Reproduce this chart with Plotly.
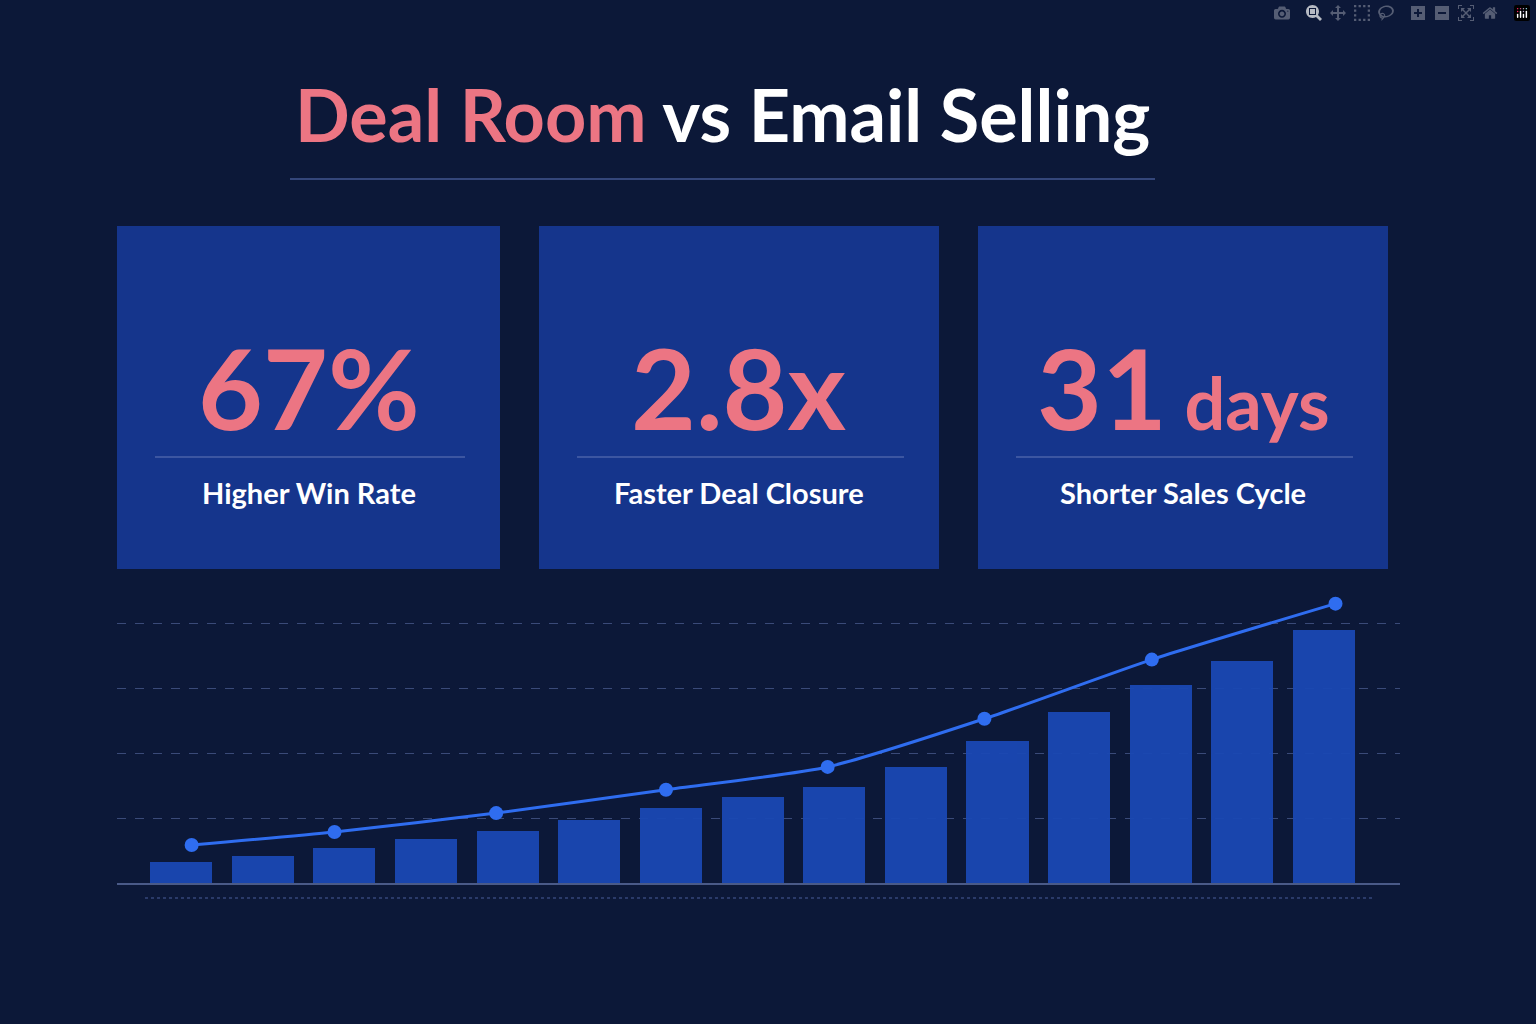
import plotly.graph_objects as go

W, H = 1536, 1024
bar_idx = list(range(1, 16))
bar_vals = [0.34, 0.43, 0.55, 0.69, 0.82, 0.98, 1.17, 1.34, 1.49, 1.8, 2.2, 2.65, 3.06, 3.43, 3.91]
line_x = [1.13, 2.88, 4.86, 6.94, 8.92, 10.84, 12.89, 15.14]
line_y = [0.6, 0.8, 1.09, 1.45, 1.8, 2.54, 3.45, 4.31]
stats = ["67%", "2.8x", "31"]
stat_suffix = ["", "", "days"]
labels = ["Higher Win Rate", "Faster Deal Closure", "Shorter Sales Cycle"]

def px(x): return x / W
def py(y): return 1 - y / H

fig = go.Figure()
fig.add_trace(go.Bar(x=bar_idx, y=bar_vals, width=0.76,
                     marker=dict(color="#1a48b4", line=dict(width=0)), opacity=0.95))
fig.add_trace(go.Scatter(x=line_x, y=line_y, mode="lines+markers",
                         line=dict(color="#2f6df0", width=3, shape="spline", smoothing=0.6),
                         marker=dict(color="#2f6df0", size=14)))

shapes = []
shapes.append(dict(type="line", xref="paper", yref="paper", x0=px(290), x1=px(1155), y0=py(179), y1=py(179),
                   line=dict(color="#34467a", width=2)))
cards = [(117, 500), (539, 939), (978, 1388)]
ann = []
for (x0, x1), s, suf, lab in zip(cards, stats, stat_suffix, labels):
    shapes.append(dict(type="rect", xref="paper", yref="paper", x0=px(x0), x1=px(x1), y0=py(569), y1=py(226),
                       fillcolor="#15358c", line=dict(width=0), layer="below"))
    shapes.append(dict(type="line", xref="paper", yref="paper", x0=px(x0 + 38), x1=px(x1 - 35), y0=py(457), y1=py(457),
                       line=dict(color="#4a62a8", width=1.5)))
    cx = (x0 + x1) / 2
    txt = f"<b>{s}</b>" if not suf else f"<b>{s}<span style='font-size:72px'> {suf}</span></b>"
    ann.append(dict(xref="paper", yref="paper", x=px(cx), y=py(386), text=txt, showarrow=False,
                    font=dict(family="Lato", size=112, color="#ec7583"), xanchor="center", yanchor="middle"))
    ann.append(dict(xref="paper", yref="paper", x=px(cx), y=py(492), text=f"<b>{lab}</b>", showarrow=False,
                    font=dict(family="Lato", size=29, color="#ffffff"), xanchor="center", yanchor="middle"))
ann.append(dict(xref="paper", yref="paper", x=px(722), y=py(114),
                text="<b><span style='color:#ec7583'>Deal Room</span> vs Email Selling</b>", showarrow=False,
                font=dict(family="Lato", size=72, color="#ffffff"), xanchor="center", yanchor="middle"))
shapes.append(dict(type="line", xref="paper", yref="paper", x0=px(117), x1=px(1400), y0=py(884), y1=py(884),
                   line=dict(color="#4a5a88", width=2)))
shapes.append(dict(type="line", xref="paper", yref="paper", x0=px(145), x1=px(1375), y0=py(898), y1=py(898),
                   line=dict(color="#34467a", width=1.5, dash="dot")))

fig.update_layout(
    width=W, height=H, margin=dict(l=0, r=0, t=0, b=0),
    paper_bgcolor="#0c1838", plot_bgcolor="rgba(0,0,0,0)", showlegend=False,
    shapes=shapes, annotations=ann, bargap=0,
    xaxis=dict(domain=[px(117), px(1400)], range=[0.216, 15.93], visible=False),
    yaxis=dict(domain=[py(884), py(590)], range=[0, 4.52], showticklabels=False, zeroline=False,
               showgrid=True, gridcolor="#3a4a78", griddash="dash", gridwidth=1, tickvals=[1, 2, 3, 4]),
)
fig.write_html("out.html",
               post_script="document.body.style.margin='0';document.body.style.background='#0c1838';")
